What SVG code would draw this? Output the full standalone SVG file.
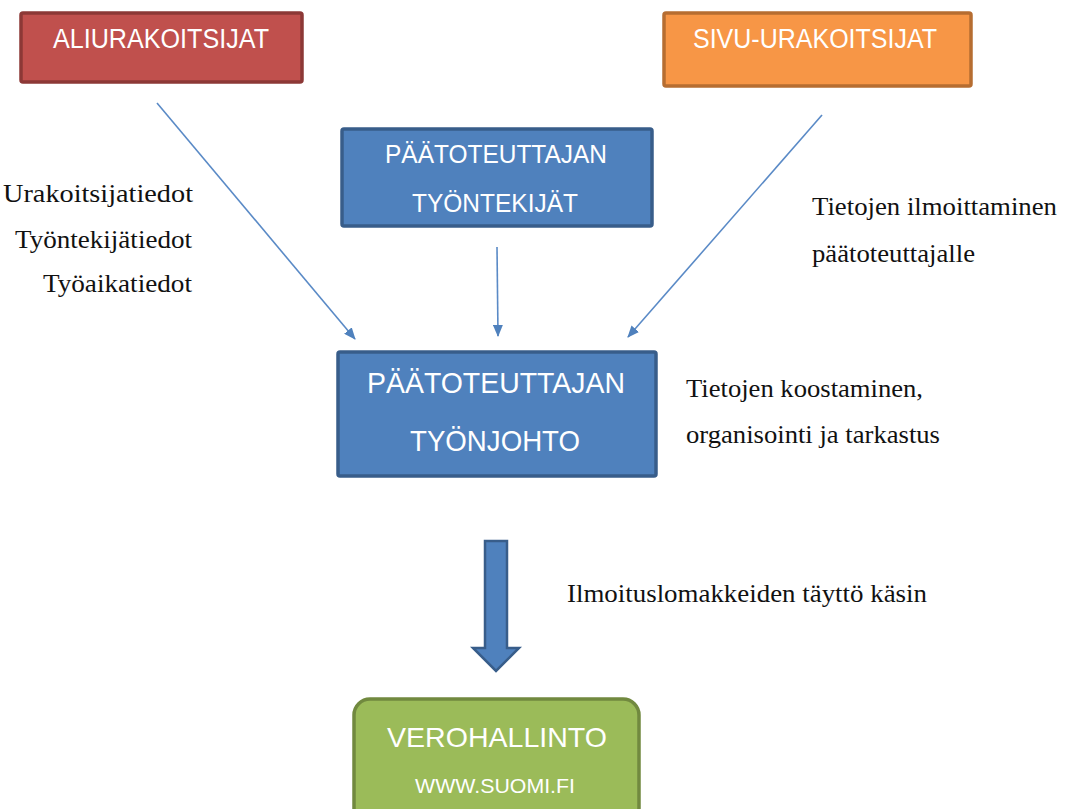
<svg xmlns="http://www.w3.org/2000/svg" width="1066" height="809" viewBox="0 0 1066 809">
<style>
.box{stroke-width:3.5}
.bt{font-family:"Liberation Sans",Arial,sans-serif;fill:#ffffff;text-anchor:middle}
.st{font-family:"Liberation Serif","Times New Roman",serif;font-size:26px;fill:#111111}
.con{stroke:#5A8AC6;stroke-width:1.6;fill:none}
</style>
<defs>
<marker id="ah" viewBox="0 0 12 10" refX="11" refY="5" markerWidth="12" markerHeight="10" markerUnits="userSpaceOnUse" orient="auto">
<path d="M0,0 L12,5 L0,10 Z" fill="#4F81BD"/>
</marker>
</defs>
<rect width="1066" height="809" fill="#ffffff"/>

<g id="aliurakoitsijat">
<rect class="box" x="21" y="13" width="281" height="69" fill="#C0504D" stroke="#8C3836" rx="2"/>
<text class="bt" x="161" y="48" font-size="27" textLength="216" lengthAdjust="spacingAndGlyphs">ALIURAKOITSIJAT</text>
</g>

<g id="sivu-urakoitsijat">
<rect class="box" x="664" y="13" width="307" height="73" fill="#F79646" stroke="#B66D31" rx="2"/>
<text class="bt" x="815" y="48" font-size="27" textLength="244" lengthAdjust="spacingAndGlyphs">SIVU-URAKOITSIJAT</text>
</g>

<g id="paatoteuttajan-tyontekijat">
<rect class="box" x="342" y="129" width="310" height="97" fill="#4F81BD" stroke="#385D8A" rx="2"/>
<text class="bt" x="496" y="163" font-size="25" textLength="222" lengthAdjust="spacingAndGlyphs">PÄÄTOTEUTTAJAN</text>
<text class="bt" x="495" y="212" font-size="25" textLength="166" lengthAdjust="spacingAndGlyphs">TYÖNTEKIJÄT</text>
</g>

<g id="paatoteuttajan-tyonjohto">
<rect class="box" x="338" y="352" width="318" height="124" fill="#4F81BD" stroke="#385D8A" rx="2"/>
<text class="bt" x="496" y="393" font-size="29" textLength="258" lengthAdjust="spacingAndGlyphs">PÄÄTOTEUTTAJAN</text>
<text class="bt" x="495" y="451" font-size="29" textLength="170" lengthAdjust="spacingAndGlyphs">TYÖNJOHTO</text>
</g>

<g id="verohallinto">
<rect class="box" x="354" y="699" width="285" height="125" fill="#9BBB59" stroke="#71893F" rx="16"/>
<text class="bt" x="497" y="747" font-size="28" textLength="220" lengthAdjust="spacingAndGlyphs">VEROHALLINTO</text>
<text class="bt" x="495" y="793" font-size="21" textLength="160" lengthAdjust="spacingAndGlyphs">WWW.SUOMI.FI</text>
</g>

<g id="connectors">
<line class="con" x1="157" y1="103" x2="355" y2="339" marker-end="url(#ah)"/>
<line class="con" x1="497" y1="247" x2="498" y2="336" marker-end="url(#ah)"/>
<line class="con" x1="822" y1="115" x2="628" y2="337" marker-end="url(#ah)"/>
<path d="M485,541 L507,541 L507,648 L519,648 L496,671 L473,648 L485,648 Z" fill="#4F81BD" stroke="#385D8A" stroke-width="2.5" stroke-linejoin="miter"/>
</g>

<g id="labels">
<text class="st" x="193" y="202" text-anchor="end" textLength="190" lengthAdjust="spacingAndGlyphs">Urakoitsijatiedot</text>
<text class="st" x="192" y="248" text-anchor="end" textLength="177" lengthAdjust="spacingAndGlyphs">Työntekijätiedot</text>
<text class="st" x="192" y="292" text-anchor="end" textLength="149" lengthAdjust="spacingAndGlyphs">Työaikatiedot</text>
<text class="st" x="812" y="215" textLength="245" lengthAdjust="spacingAndGlyphs">Tietojen ilmoittaminen</text>
<text class="st" x="812" y="262" textLength="163" lengthAdjust="spacingAndGlyphs">päätoteuttajalle</text>
<text class="st" x="686" y="397" textLength="237" lengthAdjust="spacingAndGlyphs">Tietojen koostaminen,</text>
<text class="st" x="686" y="443" textLength="254" lengthAdjust="spacingAndGlyphs">organisointi ja tarkastus</text>
<text class="st" x="567" y="602" textLength="360" lengthAdjust="spacingAndGlyphs">Ilmoituslomakkeiden täyttö käsin</text>
</g>
</svg>
